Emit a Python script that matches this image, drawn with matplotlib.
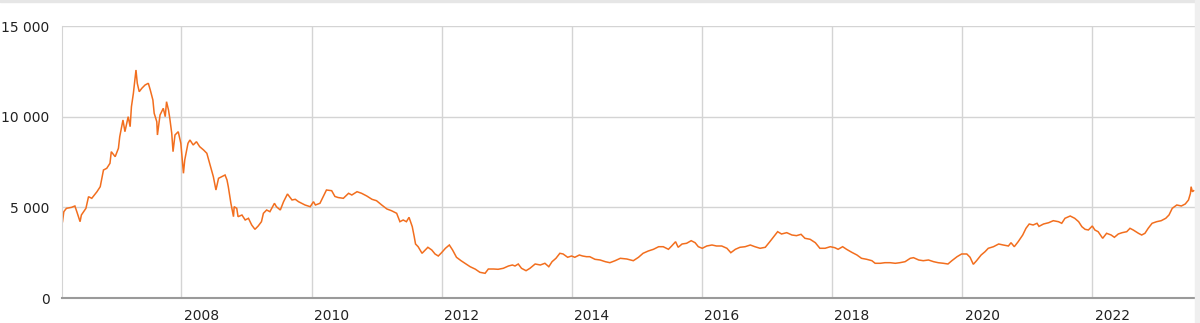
import numpy as np
import matplotlib
matplotlib.use("Agg")
import matplotlib.pyplot as plt
from matplotlib.ticker import FuncFormatter

# index level (decimal year, value)
years = [
    2006.17, 2006.19, 2006.23, 2006.31, 2006.36, 2006.39, 2006.44, 2006.46, 2006.53, 2006.57,
    2006.62, 2006.70, 2006.75, 2006.80, 2006.85, 2006.90, 2006.92, 2006.98, 2007.03, 2007.05,
    2007.10, 2007.13, 2007.18, 2007.21, 2007.23, 2007.26, 2007.28, 2007.30, 2007.32, 2007.35,
    2007.39, 2007.44, 2007.49, 2007.52, 2007.56, 2007.58, 2007.62, 2007.63, 2007.67, 2007.72,
    2007.75, 2007.77, 2007.80, 2007.82, 2007.85, 2007.87, 2007.90, 2007.95, 2007.99, 2008.03,
    2008.05, 2008.10, 2008.13, 2008.18, 2008.23,
    2008.28, 2008.34, 2008.39, 2008.44, 2008.49, 2008.53, 2008.57, 2008.62, 2008.67, 2008.70,
    2008.72, 2008.76, 2008.80, 2008.81, 2008.85, 2008.87, 2008.93, 2008.98, 2009.03, 2009.08,
    2009.13, 2009.18, 2009.23, 2009.26, 2009.31, 2009.36, 2009.43, 2009.46, 2009.52, 2009.57,
    2009.63, 2009.70, 2009.75, 2009.80, 2009.85, 2009.90, 2009.98, 2010.03, 2010.06, 2010.13,
    2010.18, 2010.23, 2010.31, 2010.36, 2010.41,
    2010.49, 2010.57, 2010.62, 2010.70, 2010.77, 2010.85, 2010.93, 2011.00, 2011.08, 2011.16,
    2011.23, 2011.31, 2011.36, 2011.41, 2011.46, 2011.50, 2011.55, 2011.58, 2011.60, 2011.64,
    2011.70, 2011.75, 2011.79, 2011.85, 2011.90, 2011.95, 2012.00, 2012.06, 2012.12, 2012.17,
    2012.23, 2012.30, 2012.36, 2012.44,
    2012.52, 2012.59, 2012.67, 2012.72, 2012.80, 2012.87, 2012.95, 2013.03, 2013.09, 2013.13,
    2013.18, 2013.23, 2013.30, 2013.36, 2013.44, 2013.52, 2013.59, 2013.65, 2013.70, 2013.76,
    2013.82, 2013.87, 2013.94, 2014.00, 2014.05, 2014.12, 2014.17, 2014.23, 2014.28, 2014.36,
    2014.44, 2014.52, 2014.59, 2014.67,
    2014.75, 2014.85, 2014.95, 2015.03, 2015.10, 2015.18, 2015.26, 2015.34, 2015.41, 2015.49,
    2015.54, 2015.60, 2015.64, 2015.70, 2015.77, 2015.84, 2015.90, 2015.95, 2016.01, 2016.08,
    2016.16, 2016.23, 2016.31, 2016.39, 2016.45, 2016.52, 2016.59, 2016.67, 2016.75, 2016.82,
    2016.90, 2016.98, 2017.05, 2017.13, 2017.17, 2017.23, 2017.31, 2017.39, 2017.46, 2017.53,
    2017.59, 2017.67, 2017.75, 2017.82, 2017.90, 2017.98, 2018.05, 2018.10, 2018.17, 2018.23,
    2018.31, 2018.39, 2018.46, 2018.54, 2018.62, 2018.67, 2018.75, 2018.82, 2018.90, 2018.98,
    2019.05, 2019.13, 2019.21, 2019.26, 2019.34, 2019.41, 2019.49, 2019.57, 2019.64, 2019.72,
    2019.79, 2019.85, 2019.93, 2020.00, 2020.08, 2020.13, 2020.18, 2020.23, 2020.30, 2020.36,
    2020.41, 2020.49, 2020.57, 2020.64, 2020.72, 2020.76, 2020.81, 2020.87, 2020.94, 2020.99,
    2021.04, 2021.10, 2021.16, 2021.19, 2021.26, 2021.34, 2021.41, 2021.49, 2021.54, 2021.59,
    2021.67, 2021.74, 2021.80, 2021.85, 2021.90, 2021.95, 2022.01, 2022.05, 2022.10, 2022.17,
    2022.23, 2022.30, 2022.35, 2022.41, 2022.47, 2022.54, 2022.59, 2022.64, 2022.72, 2022.77,
    2022.82, 2022.87, 2022.93, 2023.00, 2023.07, 2023.14, 2023.19, 2023.24, 2023.31, 2023.38,
    2023.44, 2023.49, 2023.52, 2023.53, 2023.55, 2023.57,
]
values = [
    4208, 4760, 4945, 5000, 5074, 4760, 4208, 4577, 4945, 5587,
    5498, 5862, 6138, 7059, 7151, 7428, 8069, 7793, 8256, 8896,
    9817, 9171, 9999, 9447, 10550, 11289, 11929, 12574, 11841, 11377,
    11565, 11747, 11841, 11471, 10920, 10186, 9723, 8989, 10092, 10462,
    9999, 10826, 10368, 9910, 9083, 8069, 8989, 9171, 8532, 6877,
    7611, 8532, 8714, 8438, 8620,
    8345, 8162, 7980, 7335, 6690, 5956, 6601, 6690, 6783, 6508,
    6138, 5223, 4484, 5035, 4945, 4484, 4577, 4302, 4395, 4026,
    3787, 3971, 4208, 4671, 4853, 4760, 5223, 5035, 4853, 5311,
    5736, 5405, 5443, 5311, 5223, 5129, 5035, 5311, 5129, 5223,
    5587, 5956, 5918, 5600, 5540,
    5498, 5774, 5680, 5862, 5774, 5625, 5443, 5366, 5129, 4908,
    4815, 4671, 4208, 4302, 4208, 4450, 3932, 3381, 2978, 2829,
    2465, 2647, 2796, 2647, 2427, 2316, 2498, 2741, 2923, 2647,
    2245, 2057, 1914, 1726,
    1590, 1417, 1362, 1599, 1599, 1583, 1638, 1765, 1820, 1765,
    1875, 1638, 1506, 1638, 1875, 1820, 1914, 1726, 2002, 2189,
    2465, 2427, 2245, 2316, 2245, 2371, 2316, 2278, 2278, 2134,
    2096, 2002, 1947, 2057,
    2189, 2151, 2057, 2245, 2465, 2592, 2686, 2829, 2829, 2686,
    2868, 3105, 2796, 2978, 3017, 3160, 3050, 2829, 2741, 2868,
    2923, 2868, 2868, 2741, 2498, 2686, 2796, 2829, 2923, 2829,
    2741, 2796, 3105, 3474, 3657, 3530, 3603, 3474, 3438, 3512,
    3292, 3237, 3050, 2741, 2741, 2829, 2774, 2686, 2829, 2686,
    2520, 2371, 2189, 2134, 2057, 1914, 1914, 1947, 1947, 1914,
    1947, 2002, 2189, 2224, 2096, 2057, 2096, 2002, 1947, 1914,
    1875, 2057, 2278, 2427, 2427, 2245, 1858, 2057, 2371, 2553,
    2741, 2829, 2978, 2923, 2868, 3050, 2829, 3105, 3474, 3843,
    4081, 4026, 4120, 3950, 4081, 4153, 4263, 4208, 4120, 4395,
    4522, 4395, 4208, 3932, 3787, 3750, 3971, 3750, 3657, 3292,
    3568, 3474, 3347, 3530, 3603, 3657, 3843, 3750, 3568, 3474,
    3568, 3843, 4120, 4208, 4263, 4395, 4577, 4945, 5129, 5074,
    5184, 5405, 5774, 6138, 5862, 5918,
]

y_ticks = [0, 5000, 10000, 15000]
x_years = [2008, 2010, 2012, 2014, 2016, 2018, 2020, 2022]

fig = plt.figure(figsize=(12, 3.23), dpi=100)
ax = fig.add_axes([62 / 1200, 25 / 323, 1133 / 1200, 272 / 323])

ax.plot(years, values, color="#f26e1e", lw=1.1, solid_joinstyle="miter")

ax.set_xlim(2006.162, 2023.59)
ax.set_ylim(0, 15000)

ax.set_yticks(y_ticks)
ax.yaxis.set_major_formatter(FuncFormatter(lambda v, p: f"{int(v):,}".replace(",", " ")))

# grid lines sit on Jan 1, labels are shifted a bit to the right
ax.set_xticks(x_years)
ax.set_xticklabels([])
ax.set_xticks([y + 0.315 for y in x_years], minor=True)
ax.set_xticklabels([str(y) for y in x_years], minor=True)

ax.grid(True, color="#d4d4d4", lw=1)
ax.set_axisbelow(True)
ax.tick_params(axis="both", which="both", length=0, labelsize=10, colors="#222222")
ax.tick_params(axis="y", pad=9)
ax.tick_params(axis="x", which="minor", pad=8)

for s in ["top", "right"]:
    ax.spines[s].set_visible(False)
ax.spines["left"].set_color("#d4d4d4")
ax.spines["bottom"].set_color("#9a9a9a")
ax.spines["bottom"].set_linewidth(1.5)

# thin grey frame bits from the source page
fig.patches.append(plt.Rectangle((0, 1 - 2 / 323), 1, 2 / 323, transform=fig.transFigure,
                                 color="#e6e6e6", zorder=0))
fig.patches.append(plt.Rectangle((1195 / 1200, 0), 5 / 1200, 1, transform=fig.transFigure,
                                 color="#efefef", zorder=0))

fig.savefig("out.png", dpi=100)
